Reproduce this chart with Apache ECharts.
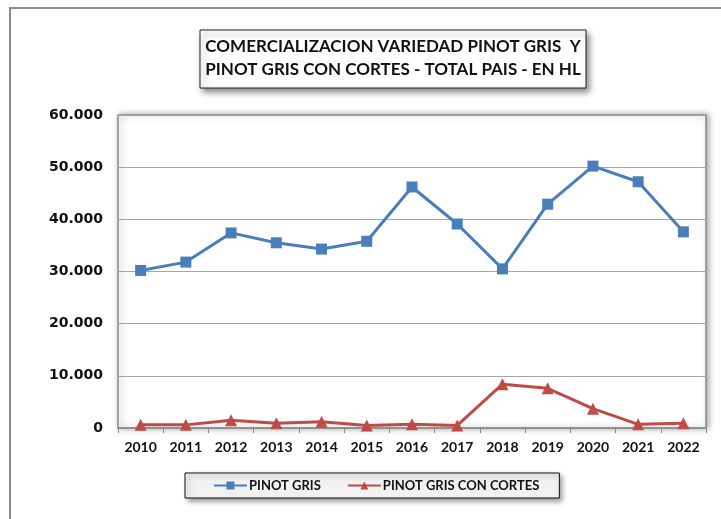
<!DOCTYPE html>
<html>
<head>
<meta charset="utf-8">
<script src="https://cdn.jsdelivr.net/npm/echarts@6/dist/echarts.min.js"></script>
<style>
  html, body { margin: 0; padding: 0; background: #fff; }
  #main { width: 721px; height: 519px; }
</style>
</head>
<body>
<div id="main"></div>
<script>
var years = ['2010', '2011', '2012', '2013', '2014', '2015', '2016', '2017', '2018', '2019', '2020', '2021', '2022'];
var pinotGris = [30200, 31800, 37400, 35500, 34300, 35800, 46200, 39100, 30500, 42900, 50200, 47200, 37600];
var pinotGrisCortes = [600, 600, 1500, 900, 1200, 500, 700, 500, 8400, 7600, 3700, 700, 900];

var myChart = echarts.init(document.getElementById('main'));
var font = 'Lato, "Open Sans", sans-serif';

var option = {
    animation: false,
    textStyle: {fontFamily: font},
    graphic: [
        {
            type: 'rect',
            shape: {x: 10, y: 8, width: 730, height: 530},
            style: {fill: '#fff', stroke: '#8c8c8c', lineWidth: 2},
            z: -10
        },
        {
            type: 'rect',
            shape: {x: 200, y: 30, width: 386, height: 58},
            style: {
                fill: '#fff', stroke: '#222', lineWidth: 1,
                shadowBlur: 6, shadowOffsetX: 3, shadowOffsetY: 4, shadowColor: 'rgba(0,0,0,0.45)'
            }
        },
        {
            type: 'text',
            x: 393, y: 58,
            style: {
                text: 'COMERCIALIZACION VARIEDAD PINOT GRIS  Y\nPINOT GRIS CON CORTES - TOTAL PAIS - EN HL',
                font: 'bold 17px ' + font,
                fill: '#111',
                align: 'center',
                verticalAlign: 'middle',
                lineHeight: 23
            }
        }
    ],
    grid: {
        left: 118, right: 15, top: 115, bottom: 91,
        show: true,
        backgroundColor: '#fff',
        borderColor: '#8a8a8a',
        borderWidth: 1.5,
        shadowBlur: 6,
        shadowColor: 'rgba(0,0,0,0.35)',
        shadowOffsetX: 2,
        shadowOffsetY: 0
    },
    legend: {
        left: 185, top: 473,
        width: 365, height: 27,
        padding: [6, 20, 6, 28],
        itemGap: 26,
        itemWidth: 33,
        itemHeight: 10,
        backgroundColor: '#f2f2f2',
        borderColor: '#111',
        borderWidth: 1,
        shadowBlur: 5,
        shadowOffsetX: 3,
        shadowOffsetY: 3,
        shadowColor: 'rgba(0,0,0,0.4)',
        textStyle: {fontSize: 13, fontWeight: 'bold', color: '#111', padding: [0, 0, 0, -3]}
    },
    xAxis: {
        type: 'category',
        data: years,
        boundaryGap: true,
        axisLine: {lineStyle: {color: '#8a8a8a', width: 1.5}},
        axisTick: {show: true, interval: 0, length: 5, lineStyle: {color: '#8a8a8a'}},
        axisLabel: {color: '#111', fontWeight: 'bold', fontSize: 14, margin: 12, interval: 0}
    },
    yAxis: {
        type: 'value',
        min: 0, max: 60000, interval: 10000,
        axisLine: {show: false},
        axisTick: {show: false},
        splitLine: {lineStyle: {color: '#a6a6a6', width: 1}},
        axisLabel: {
            color: '#111', fontWeight: 'bold', fontSize: 14, margin: 15,
            fontFamily: '"DejaVu Sans", Verdana, sans-serif',
            formatter: function (v) {
                return v === 0 ? '0' : (v / 1000).toFixed(0) + '.000';
            }
        }
    },
    series: [
        {
            name: 'PINOT GRIS',
            type: 'line',
            data: pinotGris,
            symbol: 'rect',
            symbolSize: 11,
            lineStyle: {color: '#4a7ebb', width: 3},
            itemStyle: {color: '#4a7ebb'}
        },
        {
            name: 'PINOT GRIS CON CORTES',
            type: 'line',
            data: pinotGrisCortes,
            symbol: 'triangle',
            symbolSize: 12,
            lineStyle: {color: '#be4b48', width: 3},
            itemStyle: {color: '#be4b48'}
        }
    ]
};
myChart.setOption(option);
</script>
</body>
</html>
